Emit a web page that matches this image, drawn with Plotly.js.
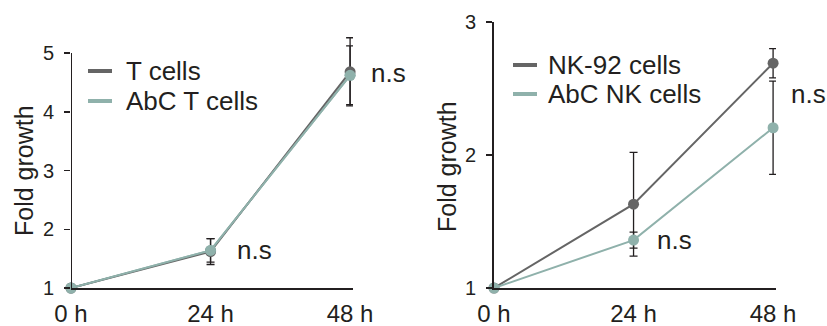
<!DOCTYPE html>
<html>
<head>
<meta charset="utf-8">
<script src="https://cdn.plot.ly/plotly-3.0.1.min.js"></script>
<style>html,body{margin:0;padding:0;background:#fff;}#chart{width:827px;height:326px;}</style>
</head>
<body>
<div id="chart"></div>
<script>
// ---- data ----
const timeValues = [0, 24, 48];
const timeLabels = ["0 h", "24 h", "48 h"];

const leftSeriesNames = ["T cells", "AbC T cells"];
const tCells = [1, 1.62, 4.68];
const tCellsErr = [0, 0.22, 0.58];
const abcTCells = [1, 1.64, 4.62];
const abcTCellsErr = [0, 0.2, 0.5];

const rightSeriesNames = ["NK-92 cells", "AbC NK cells"];
const nk92Cells = [1, 1.63, 2.69];
const nk92CellsErr = [0, 0.39, 0.11];
const abcNkCells = [1, 1.36, 2.205];
const abcNkCellsErr = [0, 0.06, 0.35];

const leftTicks = [1, 2, 3, 4, 5];
const rightTicks = [1, 2, 3];
const nsLeftY = [1.65, 4.66];
const nsRightY = [1.36, 2.46];
const yTitle = 'Fold growth';

// ---- style ----
const FONT = '"Liberation Sans", Arial, Helvetica, sans-serif';
const INK = '#231f20';
const DARK = '#656565';
const TEAL = '#8fb1ab';
const W = 827, H = 326;
const px = v => v / W;          // horizontal pixel -> paper
const py = v => (H - v) / H;    // vertical pixel -> paper

function series(x, y, err, color, xa, ya) {
  return {
    x: x, y: y, xaxis: xa, yaxis: ya, type: 'scatter', mode: 'lines+markers',
    line: {color: color, width: 2},
    marker: {color: color, size: 11},
    error_y: {type: 'data', array: err, visible: true, color: INK, thickness: 1.3, width: 4},
    cliponaxis: false, showlegend: false, hoverinfo: 'skip'
  };
}

const data = [
  series(timeValues, abcTCells, abcTCellsErr, TEAL, 'x', 'y'),
  series(timeValues, tCells, tCellsErr, DARK, 'x', 'y'),
  series(timeValues, abcTCells, [0, 0, 0], TEAL, 'x', 'y'),
  series(timeValues, nk92Cells, nk92CellsErr, DARK, 'x2', 'y2'),
  series(timeValues, abcNkCells, abcNkCellsErr, TEAL, 'x2', 'y2')
];
data[2].error_y = {visible: false};

function xaxisCfg(d) {
  return {
    domain: d, range: [0, 48.5], showline: true, linecolor: INK, linewidth: 2,
    tickmode: 'array', tickvals: timeValues, ticktext: timeLabels,
    ticks: 'outside', ticklen: 3, tickcolor: 'rgba(0,0,0,0)',
    tickfont: {family: FONT, size: 24, color: INK},
    showgrid: false, zeroline: false, fixedrange: true
  };
}
function yaxisCfg(d, r, tv, line) {
  return {
    domain: d, range: r, showline: line, linecolor: INK, linewidth: 2,
    tickmode: 'array', tickvals: tv, ticks: 'outside', ticklen: 6, tickwidth: 1.5, tickcolor: INK,
    ticklabelstandoff: 6,
    tickfont: {family: FONT, size: 20, color: INK},
    showgrid: false, zeroline: false, fixedrange: true
  };
}

const txt = (s) => ({family: FONT, size: s, color: INK});
const layout = {
  width: W, height: H,
  margin: {l: 0, r: 0, t: 0, b: 0},
  paper_bgcolor: '#fff', plot_bgcolor: '#fff',
  showlegend: false,
  xaxis: xaxisCfg([px(71), px(353)]),
  // left y range extends past 5 so the upper error caps are not clipped; axis line drawn to 5 below
  yaxis: yaxisCfg([py(288), py(288 - 4.4 * 58.75)], [1, 5.4], leftTicks, false),
  xaxis2: Object.assign(xaxisCfg([px(494), px(776)]), {anchor: 'y2'}),
  yaxis2: Object.assign(yaxisCfg([py(288), py(22)], [1, 3], rightTicks, true), {anchor: 'x2'}),
  shapes: [
    // left y-axis line from 1 to 5
    {type: 'line', xref: 'x', yref: 'y', x0: 0, x1: 0, y0: leftTicks[0], y1: leftTicks[leftTicks.length - 1],
     line: {color: INK, width: 2}},
    // legend swatches
    {type: 'line', xref: 'paper', yref: 'paper', x0: px(88), x1: px(112), y0: py(71), y1: py(71), line: {color: DARK, width: 4}},
    {type: 'line', xref: 'paper', yref: 'paper', x0: px(88), x1: px(112), y0: py(101), y1: py(101), line: {color: TEAL, width: 4}},
    {type: 'line', xref: 'paper', yref: 'paper', x0: px(513), x1: px(537), y0: py(65), y1: py(65), line: {color: DARK, width: 4}},
    {type: 'line', xref: 'paper', yref: 'paper', x0: px(513), x1: px(537), y0: py(94), y1: py(94), line: {color: TEAL, width: 4}}
  ],
  annotations: [
    // legend texts
    {xref: 'paper', yref: 'paper', x: px(124), y: py(71), text: leftSeriesNames[0], showarrow: false, xanchor: 'left', yanchor: 'middle', font: txt(26)},
    {xref: 'paper', yref: 'paper', x: px(124), y: py(101), text: leftSeriesNames[1], showarrow: false, xanchor: 'left', yanchor: 'middle', font: txt(26)},
    {xref: 'paper', yref: 'paper', x: px(546), y: py(65), text: rightSeriesNames[0], showarrow: false, xanchor: 'left', yanchor: 'middle', font: txt(26)},
    {xref: 'paper', yref: 'paper', x: px(546), y: py(94), text: rightSeriesNames[1], showarrow: false, xanchor: 'left', yanchor: 'middle', font: txt(26)},
    // y axis titles
    {xref: 'paper', yref: 'paper', x: px(24), y: py(171), text: yTitle, textangle: -90, showarrow: false, xanchor: 'center', yanchor: 'middle', font: txt(25)},
    {xref: 'paper', yref: 'paper', x: px(447), y: py(166), text: yTitle, textangle: -90, showarrow: false, xanchor: 'center', yanchor: 'middle', font: txt(25)},
    // significance labels
    {xref: 'x', yref: 'y', x: timeValues[1], y: nsLeftY[0], text: 'n.s', showarrow: false, xanchor: 'left', xshift: 24, font: txt(26)},
    {xref: 'x', yref: 'y', x: timeValues[2], y: nsLeftY[1], text: 'n.s', showarrow: false, xanchor: 'left', xshift: 19, font: txt(26)},
    {xref: 'x2', yref: 'y2', x: timeValues[1], y: nsRightY[0], text: 'n.s', showarrow: false, xanchor: 'left', xshift: 21, font: txt(26)},
    {xref: 'x2', yref: 'y2', x: timeValues[2], y: nsRightY[1], text: 'n.s', showarrow: false, xanchor: 'left', xshift: 16, font: txt(26)}
  ]
};
Plotly.newPlot('chart', data, layout, {staticPlot: true, displayModeBar: false});
</script>
</body>
</html>
